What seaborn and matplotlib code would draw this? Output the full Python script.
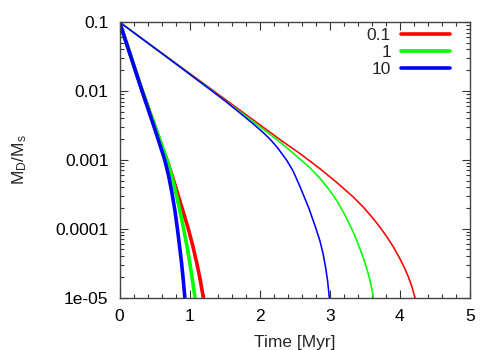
import matplotlib
matplotlib.use("Agg")
import matplotlib.pyplot as plt
import seaborn as sns
import numpy as np
import pandas as pd
from matplotlib.lines import Line2D
from matplotlib.ticker import FixedLocator, MultipleLocator, LogLocator, NullFormatter

# ---- data ----
labels = ["0.1", "1", "10"]
colors = ["#ff0000", "#00ff00", "#0000ff"]

# thin (slow) curves
thin_t = {
    "0.1": [0, 1.0, 2.0, 2.3, 2.575, 2.86, 3.1, 3.335, 3.48, 3.621, 3.72, 3.812, 3.91, 4.002,
            4.07, 4.12, 4.17, 4.215],
    "1":   [0, 1.0, 1.434, 1.9, 2.3, 2.575, 2.72, 2.86, 2.98, 3.098, 3.22, 3.335, 3.41,
            3.478, 3.53, 3.573, 3.60, 3.62],
    "10":  [0, 0.65, 1.3, 1.5, 1.7, 1.909, 2.05, 2.147, 2.25, 2.385, 2.48, 2.575, 2.7,
            2.80, 2.86, 2.905, 2.94, 2.97, 2.993],
}
thin_y = {
    "0.1": [0.1, 0.01799, 0.003236, 0.001928, 0.00123, 0.000741, 0.000468, 0.000288,
            0.000204, 0.0001396, 0.0001035, 7.67e-05, 5.37e-05, 3.63e-05, 2.63e-05,
            2.0e-05, 1.45e-05, 1e-05],
    "1":   [0.1, 0.01758, 0.008222, 0.003631, 0.001778, 0.001023, 0.000759, 0.000537,
            0.00038, 0.000257, 0.000155, 8.91e-05, 5.75e-05, 3.8e-05, 2.57e-05,
            1.78e-05, 1.32e-05, 1e-05],
    "10":  [0.1, 0.03236, 0.01035, 0.007244, 0.004955, 0.003311, 0.002483, 0.001995,
            0.001514, 0.000986, 0.000676, 0.000407, 0.0001995, 0.0001023, 6.61e-05,
            4.27e-05, 2.75e-05, 1.7e-05, 1e-05],
}
# thick (fast) curves
thick_t = {
    "0.1": [0, 0.325, 0.498, 0.599, 0.673, 0.749, 0.827, 0.906, 0.979, 1.047, 1.103, 1.153, 1.195],
    "1":   [0, 0.325, 0.499, 0.601, 0.673, 0.742, 0.806, 0.863, 0.913, 0.963, 1.004, 1.041, 1.077],
    "10":  [0, 0.321, 0.485, 0.578, 0.642, 0.699, 0.749, 0.792, 0.825, 0.857, 0.886, 0.910, 0.932],
}
thick_y_common = [0.1, 0.01, 0.003184, 0.001629, 0.001021, 0.000597, 0.000327, 0.000179,
                  0.0001014, 5.55e-05, 3.14e-05, 1.78e-05, 1e-05]
thick_y = {"0.1": thick_y_common, "1": thick_y_common, "10": thick_y_common}

ytick_vals = [1e-5, 1e-4, 1e-3, 1e-2, 1e-1]
ytick_labels = ["1e-05", "0.0001", "0.001", "0.01", "0.1"]
xtick_vals = [0, 1, 2, 3, 4, 5]

# ---- style ----
sns.set_style("ticks")
plt.rcParams["font.family"] = ["Liberation Sans", "DejaVu Sans"]
plt.rcParams["mathtext.default"] = "regular"
FS = 12.5
plt.rcParams["font.size"] = FS

fig = plt.figure(figsize=(5, 3.5), dpi=100)
ax = fig.add_axes([0.239, 0.15, 0.701, 0.787])

for lab, col in zip(labels, colors):
    df = pd.DataFrame({"t": thin_t[lab], "y": thin_y[lab]})
    sns.lineplot(data=df, x="t", y="y", color=col, lw=1.15, ax=ax,
                 sort=False, estimator=None, legend=False)
for lab, col in zip(labels, colors):
    df = pd.DataFrame({"t": thick_t[lab], "y": thick_y[lab]})
    sns.lineplot(data=df, x="t", y="y", color=col, lw=2.6, ax=ax,
                 sort=False, estimator=None, legend=False)

ax.set_yscale("log")
ax.set_xlim(0, 5)
ax.set_ylim(1e-5, 0.1)
ax.set_xticks(xtick_vals)
ax.set_xticklabels([str(v) for v in xtick_vals])
ax.xaxis.set_minor_locator(MultipleLocator(0.2))
ax.yaxis.set_major_locator(FixedLocator(ytick_vals))
ax.set_yticklabels(ytick_labels)
ax.yaxis.set_minor_locator(LogLocator(base=10, subs=np.arange(2, 10)))
ax.yaxis.set_minor_formatter(NullFormatter())

ax.tick_params(which="both", direction="in", top=True, right=True, colors="#333333",
               labelcolor="black", labelsize=FS)
ax.tick_params(which="major", length=6, width=0.8)
ax.tick_params(which="minor", length=3, width=0.8)
ax.tick_params(axis="x", pad=8)
ax.tick_params(axis="y", pad=8)
for s in ax.spines.values():
    s.set_color("#444444")
    s.set_linewidth(1.0)

ax.set_xlabel("Time [Myr]", fontsize=FS, labelpad=8)
ax.set_ylabel("M$_D$/M$_s$", fontsize=FS)
ax.yaxis.set_label_coords(-0.258, 0.5)

handles = [Line2D([0], [0], color=c, lw=2.6) for c in colors]
ax.legend(handles, labels, loc="upper right", bbox_to_anchor=(0.943, 0.98),
          frameon=False, markerfirst=False, handlelength=2.8, handletextpad=0.6,
          borderpad=0, borderaxespad=0, labelspacing=0.12, fontsize=FS)

fig.savefig("out.png", dpi=100)
